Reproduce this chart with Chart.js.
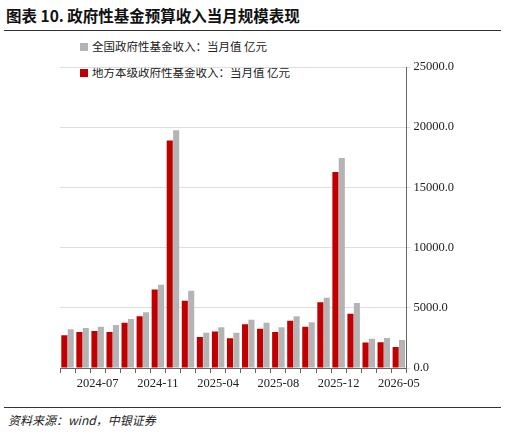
<!DOCTYPE html>
<html><head><meta charset="utf-8">
<script src="https://cdn.jsdelivr.net/npm/chart.js@4"></script>
<style>
body{margin:0;width:505px;height:435px;background:#fff;position:relative;overflow:hidden;font-family:"Noto Sans CJK SC",sans-serif}
#title{position:absolute;left:6px;top:4px;font-size:15.5px;font-weight:bold;color:#111}
#tl{position:absolute;left:4px;right:4px;top:30px;border-top:1.5px solid #333}
#bl{position:absolute;left:4px;right:4px;top:407px;border-top:1px solid #333}
#src{position:absolute;left:8px;top:411px;font-size:12px;font-style:italic;color:#222}
.lg{position:absolute;left:80px;font-size:11.5px;color:#222}
.lg span{display:inline-block;width:8px;height:8px;margin-right:4px}
#wrap{position:absolute;left:0;top:34px;width:505px;height:360px}
</style></head><body>
<div id="title">图表 10. 政府性基金预算收入当月规模表现</div>
<div id="tl"></div>
<div class="lg" style="top:38px"><span style="background:#b4b4b4"></span>全国政府性基金收入：当月值 亿元</div>
<div class="lg" style="top:64px"><span style="background:#c00000"></span>地方本级政府性基金收入：当月值 亿元</div>
<div id="wrap"><canvas id="c"></canvas></div>
<div id="bl"></div>
<div id="src">资料来源：wind，中银证券</div>
<script>
const categories=["2024-05","2024-06","2024-07","2024-08","2024-09","2024-10","2024-11","2024-12","2025-02","2025-03","2025-04","2025-05","2025-06","2025-07","2025-08","2025-09","2025-10","2025-11","2025-12","2026-02","2026-03","2026-04","2026-05"];
const localValues=[2720,3000,3080,3000,3750,4300,6530,18900,5580,2580,3030,2470,3640,3250,3000,3920,3420,5470,16280,4500,2110,2140,1750];
const nationalValues=[3220,3330,3420,3580,4080,4640,6920,19750,6420,2920,3390,2920,4000,3750,3390,4300,3800,5830,17440,5390,2420,2500,2330];
const yTicks=[0,5000,10000,15000,20000,25000];
const labelIdx=[2,6,10,14,18,22];
new Chart(document.getElementById('c'),{type:'bar',
data:{labels:categories,datasets:[
{label:'地方本级政府性基金收入：当月值 亿元',data:localValues,backgroundColor:'#c00000',categoryPercentage:0.85,barPercentage:0.95},
{label:'全国政府性基金收入：当月值 亿元',data:nationalValues,backgroundColor:'#b4b4b4',categoryPercentage:0.85,barPercentage:0.95}]},
options:{responsive:true,maintainAspectRatio:false,animation:false,
layout:{padding:{left:60,right:48,top:33,bottom:0}},
plugins:{legend:{display:false},tooltip:{enabled:false}},
scales:{
x:{grid:{offset:true,drawOnChartArea:false,tickLength:5,color:'#666'},border:{color:'#666'},
ticks:{autoSkip:false,maxRotation:0,font:{family:'Liberation Serif',size:12.5},color:'#222',
callback:(v,i)=>labelIdx.includes(i)?categories[i]:''}},
y:{position:'right',min:0,max:25000,afterBuildTicks:a=>{a.ticks=yTicks.map(v=>({value:v}))},
grid:{color:'#ddd',borderDash:[1,2],tickLength:4},border:{color:'#666'},
ticks:{font:{family:'Liberation Serif',size:12.5},color:'#222',callback:v=>v.toFixed(1)}}}}});
</script></body></html>
